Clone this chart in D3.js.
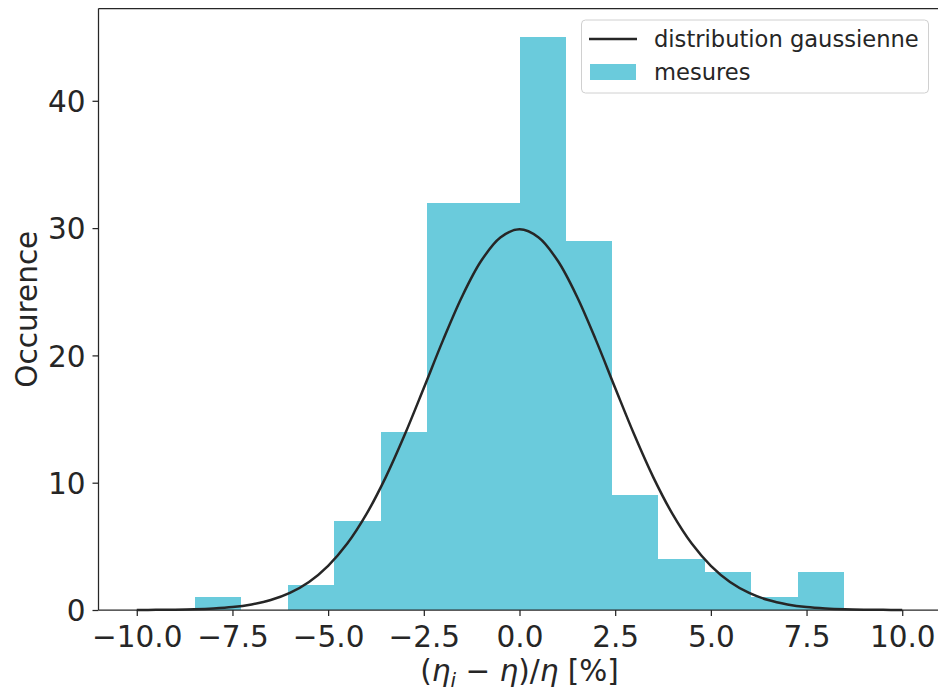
<!DOCTYPE html>
<html>
<head>
<meta charset="utf-8">
<script src="https://cdn.jsdelivr.net/npm/d3@7"></script>
<style>
  html, body { margin: 0; padding: 0; background: #fff; }
  svg { display: block; font-family: "DejaVu Sans", sans-serif; }
</style>
</head>
<body>
<svg id="chart" width="938" height="691"></svg>
<script>
// ---- data ----
const binEdges = [-8.48, -7.27, -6.06, -4.85, -3.63, -2.42, -1.21, 0, 1.21, 2.42, 3.63, 4.85, 6.06, 7.27, 8.48];
const binCounts = [1, 0, 2, 7, 14, 32, 32, 45, 29, 9, 4, 3, 1, 3];
const curveX = [-10, -9.5, -9, -8.5, -8, -7.5, -7, -6.5, -6, -5.5, -5, -4.5, -4, -3.5, -3, -2.5, -2, -1.5, -1, -0.5, 0,
                0.5, 1, 1.5, 2, 2.5, 3, 3.5, 4, 4.5, 5, 5.5, 6, 6.5, 7, 7.5, 8, 8.5, 9, 9.5, 10];
const curveY = [0.005, 0.012, 0.028, 0.059, 0.12, 0.23, 0.44, 0.78, 1.34, 2.20, 3.47, 5.22, 7.53, 10.40, 13.76, 17.44, 21.18, 24.63, 27.43, 29.26, 29.9,
                29.26, 27.43, 24.63, 21.18, 17.44, 13.76, 10.40, 7.53, 5.22, 3.47, 2.20, 1.34, 0.78, 0.44, 0.23, 0.12, 0.059, 0.028, 0.012, 0.005];
const xTicks = [-10, -7.5, -5, -2.5, 0, 2.5, 5, 7.5, 10];
const yTicks = [0, 10, 20, 30, 40];
const legendLabels = ["distribution gaussienne", "mesures"];

// ---- layout ----
const svg = d3.select("#chart");
const ink = "#262626";
const barColor = "#6acbdc";
const mLeft = 98.5, mRight = 940.5, mTop = 8.5, mBottom = 610;

const x = d3.scaleLinear().domain([-11, 11]).range([mLeft, mRight]);
const y = d3.scaleLinear().domain([0, 47.25]).range([mBottom, mTop]);

const bins = binCounts.map((c, i) => ({ x0: binEdges[i], x1: binEdges[i + 1], c }));

// bars
svg.append("g").selectAll("rect").data(bins.filter(d => d.c > 0)).join("rect")
  .attr("x", d => x(d.x0))
  .attr("width", d => x(d.x1) - x(d.x0))
  .attr("y", d => y(d.c))
  .attr("height", d => y(0) - y(d.c))
  .attr("fill", barColor)
  .attr("shape-rendering", "crispEdges");

// gaussian curve
const pts = curveX.map((v, i) => [v, curveY[i]]);
svg.append("path")
  .datum(pts)
  .attr("d", d3.line().x(d => x(d[0])).y(d => y(d[1])).curve(d3.curveCatmullRom))
  .attr("fill", "none")
  .attr("stroke", ink)
  .attr("stroke-width", 2.5);

// axes
const xAxis = svg.append("g").attr("transform", `translate(0,${mBottom})`)
  .call(d3.axisBottom(x).tickValues(xTicks).tickSize(6).tickPadding(8)
        .tickFormat(d => d3.format(".1f")(d).replace("-", "\u2212")));
const yAxis = svg.append("g").attr("transform", `translate(${mLeft},0)`)
  .call(d3.axisLeft(y).tickValues(yTicks).tickSize(6).tickPadding(7).tickFormat(d3.format("d")));

[xAxis, yAxis].forEach(g => {
  g.select(".domain").remove();
  g.selectAll(".tick line").attr("stroke", ink).attr("stroke-width", 1.25);
  g.selectAll(".tick text").attr("fill", ink).style("font-size", "29.5px")
    .style("font-family", "DejaVu Sans");
});
xAxis.selectAll(".tick text").attr("dy", "0.78em");
yAxis.selectAll(".tick text").attr("dy", "0.36em");

// spines
svg.append("line").attr("x1", mLeft).attr("x2", 938).attr("y1", mBottom).attr("y2", mBottom)
  .attr("stroke", ink).attr("stroke-width", 1.25);
svg.append("line").attr("x1", mLeft).attr("x2", 938).attr("y1", mTop).attr("y2", mTop)
  .attr("stroke", ink).attr("stroke-width", 1.25);
svg.append("line").attr("x1", mLeft).attr("x2", mLeft).attr("y1", mTop).attr("y2", mBottom)
  .attr("stroke", ink).attr("stroke-width", 1.25);

// axis labels
const xl = svg.append("text")
  .attr("x", (x(0))).attr("y", 681)
  .attr("text-anchor", "middle")
  .attr("fill", ink)
  .style("font-size", "29.5px");
xl.append("tspan").text("(");
xl.append("tspan").attr("font-style", "italic").text("η");
xl.append("tspan").attr("font-style", "italic").attr("font-size", "20px").attr("dy", 6).text("i");
xl.append("tspan").attr("dy", -6).text(" \u2212 ");
xl.append("tspan").attr("font-style", "italic").text("η");
xl.append("tspan").text(")/");
xl.append("tspan").attr("font-style", "italic").text("η");
xl.append("tspan").text(" [%]");

svg.append("text")
  .attr("transform", `translate(37,${(y(47.25) + y(0)) / 2}) rotate(-90)`)
  .attr("text-anchor", "middle")
  .attr("fill", ink)
  .style("font-size", "29.5px")
  .text("Occurence");

// legend
const lg = svg.append("g");
lg.append("rect")
  .attr("x", 581.5).attr("y", 20).attr("width", 347).attr("height", 73)
  .attr("rx", 4).attr("fill", "#fff").attr("fill-opacity", 0.8)
  .attr("stroke", "#d0d0d0").attr("stroke-width", 1);
lg.append("line").attr("x1", 589).attr("x2", 637).attr("y1", 39).attr("y2", 39)
  .attr("stroke", ink).attr("stroke-width", 2.5);
lg.append("rect").attr("x", 590).attr("y", 64).attr("width", 46).attr("height", 16)
  .attr("fill", barColor);
lg.selectAll("text.lab").data(legendLabels).join("text")
  .attr("class", "lab")
  .attr("x", 654).attr("y", (d, i) => 47 + i * 33)
  .attr("fill", ink)
  .style("font-size", "22.6px")
  .text(d => d);
</script>
</body>
</html>
